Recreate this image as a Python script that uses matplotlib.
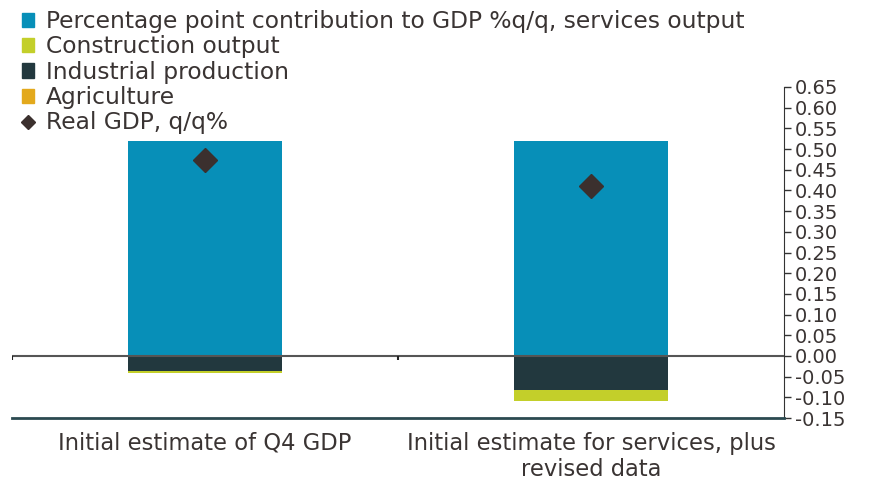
import numpy as np
import matplotlib.pyplot as plt
from matplotlib.patches import Patch
from matplotlib.lines import Line2D

plt.rcParams['font.family'] = ['DejaVu Sans']

# contributions to GDP growth, percentage points
categories = ['Initial estimate of Q4 GDP', 'Initial estimate for services, plus\nrevised data']
services = [0.52, 0.52]
agriculture = [-0.001, -0.001]
industrial = [-0.035, -0.081]
construction = [-0.005, -0.026]
real_gdp = [0.473, 0.410]

c_serv = '#078fb8'
c_cons = '#c3cf2a'
c_ind = '#22383e'
c_agri = '#e3a91c'
c_gdp = '#3b302e'
c_text = '#3a3433'

fig = plt.figure(figsize=(8.69, 4.82), dpi=100)
ax = fig.add_axes([12/869, 1 - 418/482, (784 - 12)/869, (418 - 87)/482])

x = np.arange(len(categories))
w = 0.4
ax.bar(x, services, w, color=c_serv)
# negatives stacked downward from zero
ax.bar(x, agriculture, w, color=c_agri)
ax.bar(x, industrial, w, bottom=agriculture, color=c_ind)
neg = np.array(agriculture) + np.array(industrial)
ax.bar(x, construction, w, bottom=neg, color=c_cons)
ax.plot(x, real_gdp, 'D', color=c_gdp, markersize=12, linestyle='none')

ax.axhline(0, color='#555555', lw=1.5, zorder=3)
ax.vlines([-0.5, 0.5], -0.009, 0, color='#222222', lw=1.5, zorder=3)

ax.set_xlim(-0.5, 1.5)
ax.set_ylim(-0.15, 0.65)
ticks = np.arange(-0.15, 0.651, 0.05)
ax.set_yticks(ticks)
ax.set_yticklabels([f'{v:.2f}' for v in ticks])
ax.yaxis.tick_right()
ax.tick_params(axis='y', length=5, width=1, color='#333333', labelsize=14,
               labelcolor=c_text, pad=3)
ax.set_xticks(x)
ax.set_xticklabels(categories, fontsize=16.3, color=c_text, linespacing=1.2)
ax.tick_params(axis='x', length=0, pad=10)

for s in ['top', 'left']:
    ax.spines[s].set_visible(False)
ax.spines['right'].set_color('#333333')
ax.spines['bottom'].set_color('#2b4a50')
ax.spines['bottom'].set_linewidth(2)

handles = [
    Patch(color=c_serv, label='Percentage point contribution to GDP %q/q, services output'),
    Patch(color=c_cons, label='Construction output'),
    Patch(color=c_ind, label='Industrial production'),
    Patch(color=c_agri, label='Agriculture'),
    Line2D([], [], marker='D', color=c_gdp, linestyle='none', markersize=7, label='Real GDP, q/q%'),
]
leg = fig.legend(handles=handles, loc='upper left', bbox_to_anchor=(0.006, 1.013),
                 frameon=False, fontsize=16.8, handlelength=0.55, handleheight=0.55,
                 handletextpad=0.5, labelspacing=0.1, borderaxespad=0.3)
for t in leg.get_texts():
    t.set_color(c_text)

fig.savefig('out.png', dpi=100)
